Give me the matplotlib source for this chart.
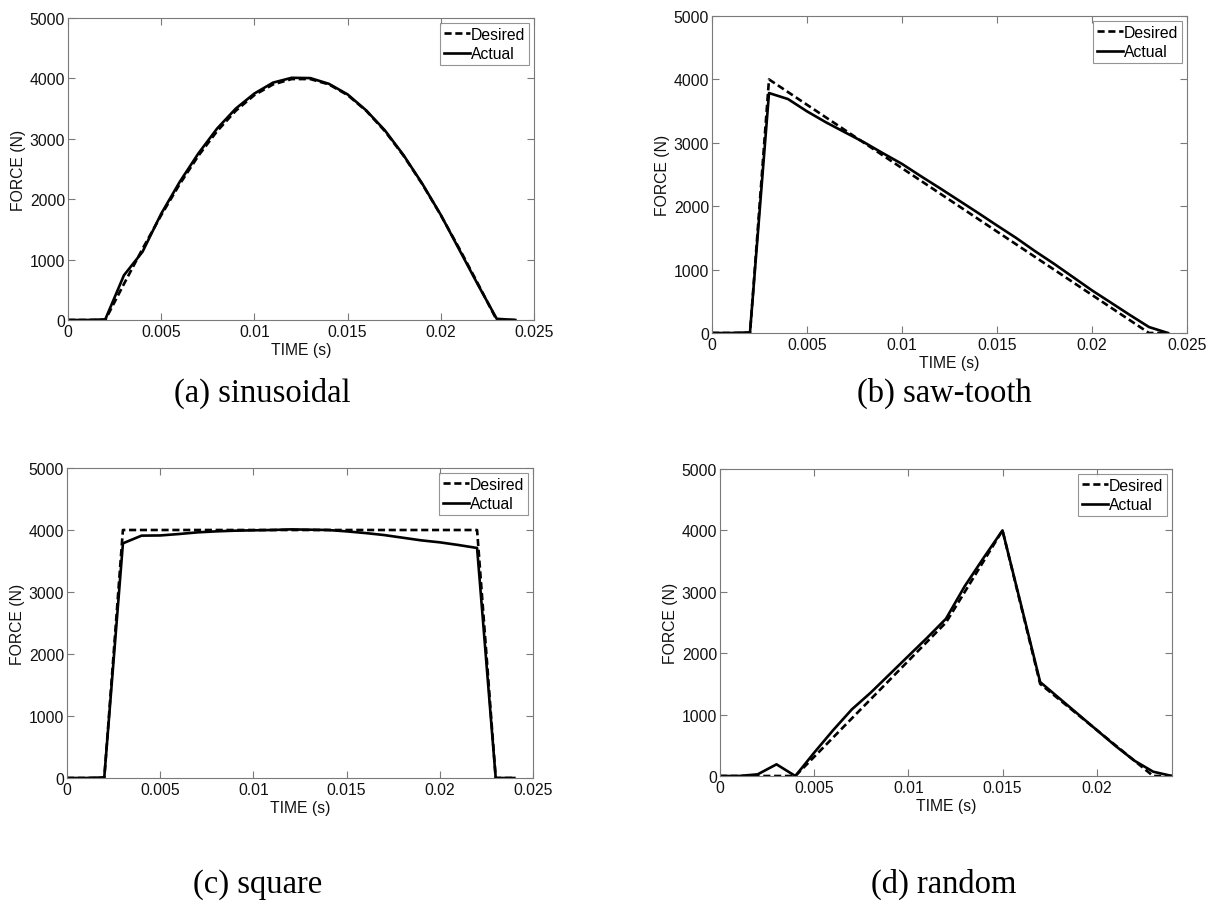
import matplotlib
matplotlib.use("Agg")
import matplotlib.pyplot as plt

# ---------------- data ----------------
time_s = [0.000, 0.001, 0.002, 0.003, 0.004, 0.005, 0.006, 0.007, 0.008,
          0.009, 0.010, 0.011, 0.012, 0.013, 0.014, 0.015, 0.016, 0.017,
          0.018, 0.019, 0.020, 0.021, 0.022, 0.023, 0.024]

sin_desired = [0, 0, 0, 596, 1179, 1736, 2253, 2721, 3127, 3464, 3724, 3900,
               3989, 3989, 3900, 3724, 3464, 3127, 2721, 2253, 1736, 1179,
               596, 0, 0]
sin_actual = [0, 0, 10, 740, 1130, 1760, 2290, 2760, 3170, 3500, 3750, 3930,
              4010, 4005, 3910, 3735, 3470, 3140, 2730, 2260, 1740, 1160,
              580, 20, 0]

saw_desired = [0, 0, 0, 4000, 3800, 3600, 3400, 3200, 3000, 2800, 2600, 2400,
               2200, 2000, 1800, 1600, 1400, 1200, 1000, 800, 600, 400, 200,
               0, 0]
saw_actual = [0, 0, 10, 3785, 3690, 3496, 3323, 3165, 3008, 2835, 2667, 2472,
              2283, 2089, 1895, 1696, 1501, 1291, 1092, 882, 672, 478, 283,
              94, 0]

sq_desired = [0, 0, 0, 4000, 4000, 4000, 4000, 4000, 4000, 4000, 4000, 4000,
              4000, 4000, 4000, 4000, 4000, 4000, 4000, 4000, 4000, 4000, 4000,
              0, 0]
sq_actual = [0, 0, 10, 3785, 3909, 3912, 3935, 3962, 3978, 3989, 3995, 4000,
             4010, 4005, 4000, 3978, 3951, 3919, 3876, 3833, 3801, 3758, 3710,
             0, 0]

rnd_desired = [0, 0, 0, 0, 0, 312, 625, 938, 1250, 1562, 1875, 2188, 2500,
               3000, 3500, 4000, 2750, 1500, 1250, 1000, 750, 500, 250, 0, 0]
rnd_actual = [0, 0, 27, 190, 0, 380, 744, 1085, 1357, 1655, 1954, 2252, 2562,
              3094, 3555, 4000, 2768, 1530, 1270, 1010, 750, 490, 250, 70, 0]

yticks = [0, 1000, 2000, 3000, 4000, 5000]
ytick_labels = ["0", "1000", "2000", "3000", "4000", "5000"]
xticks_full = [0, 0.005, 0.01, 0.015, 0.02, 0.025]
xtick_labels_full = ["0", "0.005", "0.01", "0.015", "0.02", "0.025"]
xticks_rnd = [0, 0.005, 0.01, 0.015, 0.02]
xtick_labels_rnd = ["0", "0.005", "0.01", "0.015", "0.02"]

captions = ["(a) sinusoidal", "(b) saw-tooth", "(c) square", "(d) random"]
series_names = ["Desired", "Actual"]

# ---------------- layout ----------------
W, H = 1216, 903
fig = plt.figure(figsize=(W / 100, H / 100), dpi=100)
fig.patch.set_facecolor("white")

SANS = ["Liberation Sans", "DejaVu Sans"]
SERIF = ["Liberation Serif", "DejaVu Serif"]
FRAME = "#7a7a7a"
TXT = "#111111"
FS = 11.3


def px_axes(l, r, t, b):
    return fig.add_axes([l / W, 1 - b / H, (r - l) / W, (b - t) / H])


panels = [
    dict(box=(68, 534, 19, 321), des=sin_desired, act=sin_actual,
         xlim=(0, 0.025), xt=xticks_full, xl=xtick_labels_full,
         cap=captions[0], cap_xy=(262, 402)),
    dict(box=(712, 1187, 17, 334), des=saw_desired, act=saw_actual,
         xlim=(0, 0.025), xt=xticks_full, xl=xtick_labels_full,
         cap=captions[1], cap_xy=(944, 402)),
    dict(box=(67, 533, 469, 779), des=sq_desired, act=sq_actual,
         xlim=(0, 0.025), xt=xticks_full, xl=xtick_labels_full,
         cap=captions[2], cap_xy=(258, 893)),
    dict(box=(720, 1172, 470, 777), des=rnd_desired, act=rnd_actual,
         xlim=(0, 0.024), xt=xticks_rnd, xl=xtick_labels_rnd,
         cap=captions[3], cap_xy=(944, 893)),
]

for p in panels:
    ax = px_axes(*p["box"])
    ax.plot(time_s, p["des"], color="black", lw=1.9,
            linestyle=(0, (2.7, 1.4)), label=series_names[0])
    ax.plot(time_s, p["act"], color="black", lw=1.9,
            linestyle="-", label=series_names[1])
    ax.set_xlim(*p["xlim"])
    ax.set_ylim(0, 5000)
    ax.set_xticks(p["xt"])
    ax.set_xticklabels(p["xl"], fontfamily=SANS, fontsize=FS)
    ax.set_yticks(yticks)
    ax.set_yticklabels(ytick_labels, fontfamily=SANS, fontsize=FS)
    ax.tick_params(direction="in", length=5, width=0.8, color=FRAME,
                   top=True, right=True, pad=2, labelcolor=TXT)
    ax.tick_params(axis="x", pad=3)
    for s in ax.spines.values():
        s.set_color(FRAME)
        s.set_linewidth(0.8)
    ax.set_xlabel("TIME (s)", fontfamily=SANS, fontsize=FS, labelpad=2,
                  color=TXT)
    ax.set_ylabel("FORCE (N)", fontfamily=SANS, fontsize=FS, labelpad=3,
                  color=TXT)
    leg = ax.legend(loc="upper right", prop={"family": SANS, "size": FS},
                    frameon=True, fancybox=False, borderaxespad=0.3,
                    borderpad=0.25, handlelength=1.65, handletextpad=0.05,
                    labelspacing=0.3)
    leg.get_frame().set_edgecolor(FRAME)
    leg.get_frame().set_linewidth(0.8)
    cx, cy = p["cap_xy"]
    fig.text(cx / W, 1 - cy / H, p["cap"], ha="center", va="baseline",
             fontfamily=SERIF, fontsize=23.5, color="black")

fig.savefig("out.png", dpi=100, facecolor="white")
